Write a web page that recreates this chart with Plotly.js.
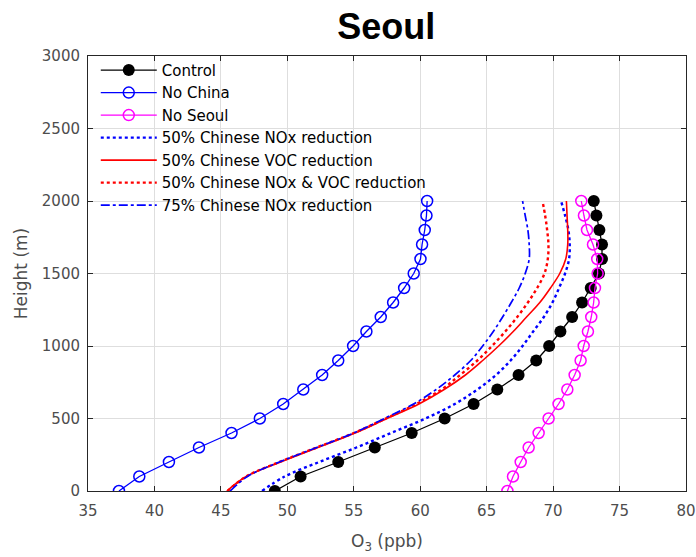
<!DOCTYPE html>
<html>
<head>
<meta charset="utf-8">
<script src="https://cdn.plot.ly/plotly-3.0.1.min.js"></script>
<style>
  html, body { margin: 0; padding: 0; background: #fff; }
  #chart { width: 696px; height: 557px; }
</style>
</head>
<body>
<div id="chart"></div>
<script>
// heights (m) of each model level
const heights = [0, 100, 200, 300, 400, 500, 600, 700, 800, 900, 1000,
  1100, 1200, 1300, 1400, 1500, 1600, 1700, 1800, 1900, 2000];

// O3 (ppb)
const control = [49.06, 51.0, 53.83, 56.58, 59.36, 61.84, 64.02, 65.8, 67.4, 68.73, 69.7,
  70.55, 71.43, 72.18, 72.83, 73.45, 73.68, 73.68, 73.48, 73.26, 73.06];
const noChina = [37.33, 38.86, 41.09, 43.35, 45.8, 47.93, 49.69, 51.2, 52.62, 53.83, 54.95,
  55.95, 57.03, 57.96, 58.79, 59.51, 60.02, 60.14, 60.34, 60.47, 60.52];
const noSeoul = [66.56, 66.98, 67.56, 68.16, 68.91, 69.66, 70.41, 71.07, 71.62, 72.07, 72.3,
  72.62, 72.87, 73.05, 73.15, 73.35, 73.32, 73.0, 72.55, 72.32, 72.12];
const noxCut50 = [48.1, 49.8, 52.4, 55.2, 57.8, 60.4, 62.6, 64.3, 65.7, 66.8, 67.7,
  68.5, 69.3, 69.95, 70.45, 70.9, 71.2, 71.25, 71.15, 70.9, 70.6];
const vocCut50 = [45.45, 46.9, 49.5, 52.3, 55.1, 57.5, 59.9, 61.8, 63.4, 64.7, 65.9,
  67.0, 68.0, 69.0, 69.8, 70.5, 70.95, 71.1, 71.1, 71.05, 71.0];
const noxVocCut50 = [45.5, 46.9, 49.4, 52.2, 55.0, 57.4, 59.7, 61.6, 63.0, 64.3, 65.4,
  66.4, 67.3, 68.1, 68.8, 69.35, 69.6, 69.65, 69.55, 69.4, 69.2];
const noxCut75 = [45.7, 47.0, 49.4, 52.2, 55.0, 57.3, 59.5, 61.2, 62.6, 63.8, 64.7,
  65.5, 66.2, 66.85, 67.45, 67.9, 68.2, 68.2, 68.1, 67.9, 67.7];

const xTicks = [35, 40, 45, 50, 55, 60, 65, 70, 75, 80];
const yTicks = [0, 500, 1000, 1500, 2000, 2500, 3000];

const FONT = "DejaVu Sans, Verdana, sans-serif";

const traces = [
  {
    x: control, y: heights, name: "Control", mode: "lines+markers",
    line: { color: "#000000", width: 1.3 },
    marker: { color: "#000000", size: 12, symbol: "circle" }
  },
  {
    x: noChina, y: heights, name: "No China", mode: "lines+markers",
    line: { color: "#0000ff", width: 1.3 },
    marker: { color: "#0000ff", size: 11, symbol: "circle-open", line: { width: 1.5 } }
  },
  {
    x: noSeoul, y: heights, name: "No Seoul", mode: "lines+markers",
    line: { color: "#ff00ff", width: 1.3 },
    marker: { color: "#ff00ff", size: 11, symbol: "circle-open", line: { width: 1.5 } }
  },
  {
    x: noxCut50, y: heights, name: "50% Chinese NOx reduction", mode: "lines",
    line: { color: "#0000ff", width: 2.4, dash: "dot", shape: "spline" }
  },
  {
    x: vocCut50, y: heights, name: "50% Chinese VOC reduction", mode: "lines",
    line: { color: "#ff0000", width: 1.6, shape: "spline" }
  },
  {
    x: noxVocCut50, y: heights, name: "50% Chinese NOx & VOC reduction", mode: "lines",
    line: { color: "#ff0000", width: 2.4, dash: "dot", shape: "spline" }
  },
  {
    x: noxCut75, y: heights, name: "75% Chinese NOx reduction", mode: "lines",
    line: { color: "#0000ff", width: 1.7, dash: "dashdot", shape: "spline" }
  }
];

const axisCommon = {
  showline: true,
  linecolor: "#262626",
  linewidth: 1,
  mirror: "ticks",
  ticks: "inside",
  ticklen: 5,
  tickcolor: "#262626",
  showgrid: true,
  gridcolor: "#dedede",
  gridwidth: 1,
  zeroline: false,
  tickfont: { family: FONT, size: 15, color: "#4d4d4d" }
};

const layout = {
  width: 696,
  height: 557,
  paper_bgcolor: "#ffffff",
  plot_bgcolor: "#ffffff",
  font: { family: FONT, color: "#262626" },
  margin: { l: 88, r: 10, t: 56, b: 66 },
  title: {
    text: "<b>Seoul</b>",
    x: 0.555, xanchor: "center",
    y: 0.952, yanchor: "middle",
    font: { family: "Liberation Sans, Arial, sans-serif", size: 36, color: "#000000" }
  },
  xaxis: Object.assign({}, axisCommon, {
    range: [35, 80],
    tickmode: "array",
    tickvals: xTicks,
    ticklabelstandoff: 6,
    title: { text: "O<sub>3</sub> (ppb)", standoff: 16,
      font: { family: FONT, size: 17, color: "#4d4d4d" } }
  }),
  yaxis: Object.assign({}, axisCommon, {
    range: [0, 3000],
    tickmode: "array",
    tickvals: yTicks,
    ticklabelstandoff: 4,
    title: { text: "Height (m)", standoff: 9,
      font: { family: FONT, size: 17, color: "#4d4d4d" } }
  }),
  showlegend: true,
  legend: {
    x: 0.013, xanchor: "left",
    y: 1.005, yanchor: "top",
    bgcolor: "rgba(0,0,0,0)",
    borderwidth: 0,
    itemwidth: 56,
    tracegroupgap: 0,
    font: { family: FONT, size: 15, color: "#000000" }
  }
};

Plotly.newPlot("chart", traces, layout, { displayModeBar: false, staticPlot: true });
</script>
</body>
</html>
